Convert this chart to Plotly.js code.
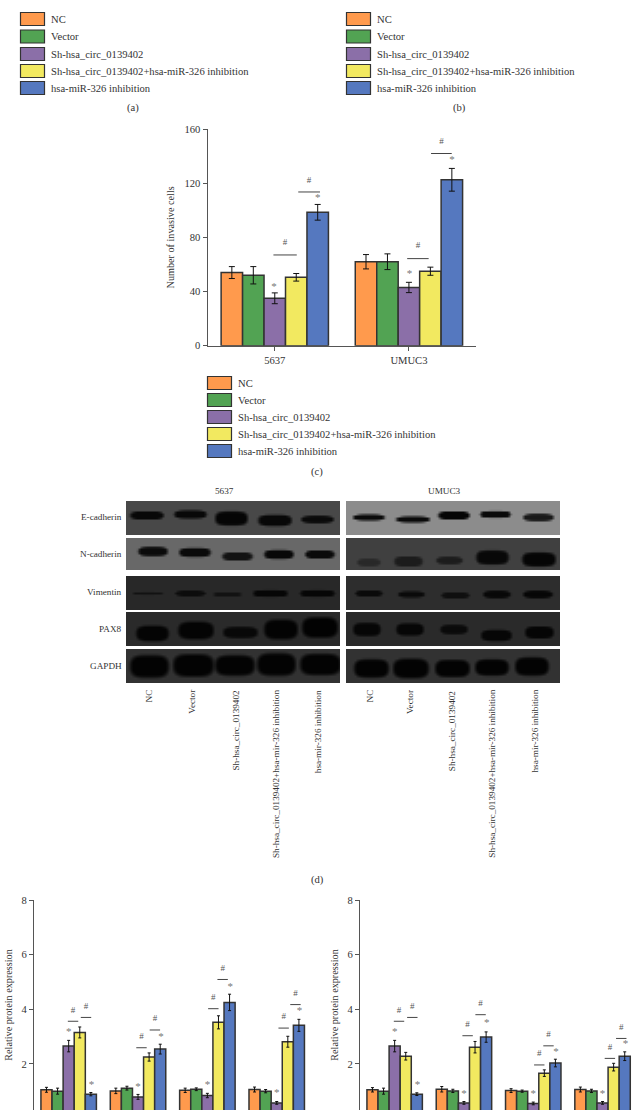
<!DOCTYPE html>
<html>
<head>
<meta charset="utf-8">
<script src="https://cdn.plot.ly/plotly-3.0.1.min.js"></script>
<style>
  html, body { margin: 0; padding: 0; background: #fff; overflow: hidden; }
</style>
</head>
<body>
<div id="chart" style="width:632px;height:1110px"></div>
<script>
const seriesNames = ['NC', 'Vector', 'Sh-hsa_circ_0139402', 'Sh-hsa_circ_0139402+hsa-miR-326 inhibition', 'hsa-miR-326 inhibition'];
const seriesColors = ['#ff9a4d', '#52a353', '#8b6fa8', '#f2e960', '#5578bf'];

// panel (c)
const invasiveCells = ['5637', 'UMUC3'];
const invasiveValues = [[54, 62], [52, 62], [35, 43], [50.5, 55], [98.5, 122.5]];
const invasiveErrors = [[4.4, 5.3], [6.4, 5.8], [4, 3.8], [2.8, 3], [5.8, 8.4]];
const invasiveLines = [[0.077, 0.087, 67], [0.256, 0.081, 113.5], [1.067, 0.08, 64.3], [1.242, 0.077, 141.9]];
const invasiveHash = [[0.077, 75.8], [0.256, 121.9], [1.067, 73.6], [1.242, 150.7]];
const invasiveStars = [[-0.005, 42.9], [0.32, 108.9], [1.005, 52.7], [1.322, 136.9]];

// panel (e), four groups, x axis is below the crop
const proteinLeftValues = [
  [1.05, 1.01, 1.03, 1.06], [1.0, 1.11, 1.07, 1.0], [2.65, 0.79, 0.84, 0.57],
  [3.15, 2.25, 3.52, 2.81], [0.89, 2.54, 4.25, 3.41]
];
const proteinLeftErrors = [
  [0.09, 0.1, 0.08, 0.09], [0.11, 0.07, 0.05, 0.06], [0.21, 0.09, 0.08, 0.05],
  [0.2, 0.15, 0.24, 0.2], [0.06, 0.18, 0.3, 0.22]
];
const proteinLeftLines = [[0.063, 3.56], [0.25, 3.7], [1.05, 2.59], [1.243, 3.24], [2.086, 4.02], [2.22, 5.09], [3.1, 3.31], [3.27, 4.17]];
const proteinLeftStars = [[0, 3.15], [0.33, 1.22], [1, 1.16], [1.33, 2.96], [2, 1.23], [2.33, 4.82], [3, 0.91], [3.33, 3.92]];

// panel (f)
const proteinRightValues = [
  [1.05, 1.07, 1.02, 1.06], [1.0, 1.01, 1.0, 1.01], [2.65, 0.57, 0.55, 0.57],
  [2.28, 2.61, 1.66, 1.88], [0.89, 2.98, 2.03, 2.28]
];
const proteinRightErrors = [
  [0.08, 0.1, 0.07, 0.09], [0.11, 0.06, 0.04, 0.06], [0.21, 0.05, 0.05, 0.05],
  [0.14, 0.21, 0.12, 0.14], [0.05, 0.19, 0.14, 0.16]
];
const proteinRightLines = [[0.063, 3.56], [0.255, 3.7], [1.053, 3.03], [1.24, 3.8], [2.087, 1.96], [2.22, 2.66], [3.106, 2.2], [3.27, 2.93]];
const proteinRightStars = [[0, 3.15], [0.33, 1.22], [1, 0.9], [1.33, 3.47], [2, 0.9], [2.33, 2.42], [3, 0.9], [3.33, 2.7]];

// panel (d) western blots
const blotProteins = ['E-cadherin', 'N-cadherin', 'Vimentin', 'PAX8', 'GAPDH'];
const blotLanes = ['NC', 'Vector', 'Sh-hsa_circ_0139402', 'Sh-hsa_circ_0139402+hsa-mir-326 inhibition', 'hsa-mir-326 inhibition'];
// per row: background grey, then bands as [left, right, centre y, height, band grey]
const blot5637Bg = [72, 104, 40, 42, 50];
const blot5637Bands = [
  [[130, 163, 515, 7, 8], [174, 206, 514, 7, 8], [215, 247, 518, 13, 5], [258, 291, 520, 10, 8], [301, 333, 519, 6, 10]],
  [[138, 167, 551, 8, 10], [179, 210, 552, 8, 10], [222, 252, 556, 7, 18], [264, 293, 554, 8, 8], [305, 334, 554, 7, 10]],
  [[133, 162, 593, 2.5, 18], [175, 205, 593, 4, 12], [213, 241, 594, 2.5, 18], [253, 287, 593, 6, 6], [300, 334, 593, 6, 6]],
  [[136, 168, 633, 14, 4], [178, 213, 630, 16, 4], [223, 257, 632, 10, 8], [264, 297, 629, 18, 3], [302, 337, 627, 19, 2]],
  [[130, 168, 666, 21, 3], [173, 213, 665, 21, 3], [215, 254, 665, 19, 3], [257, 295, 664, 21, 3], [300, 340, 664, 20, 3]]
];
const blotUmucBg = [140, 64, 45, 42, 50];
const blotUmucBands = [
  [[353, 384, 517, 5, 10], [396, 429, 519, 5, 10], [438, 469, 515, 7, 5], [480, 510, 514, 6, 10], [523, 553, 517, 6, 25]],
  [[357, 380, 562, 6, 40], [394, 422, 561, 9, 28], [436, 462, 560, 6, 28], [476, 508, 557, 13, 8], [522, 555, 559, 13, 5]],
  [[355, 382, 593, 4.5, 10], [398, 424, 594, 5, 10], [441, 469, 595, 4.5, 15], [483, 510, 594, 6, 8], [523, 552, 594, 6, 6]],
  [[353, 380, 629, 12, 6], [396, 423, 629, 11, 6], [440, 467, 629, 8, 10], [481, 511, 635, 10, 6], [525, 553, 632, 11, 5]],
  [[354, 388, 668, 17, 3], [393, 428, 668, 18, 3], [435, 469, 668, 16, 3], [475, 508, 667, 15, 3], [515, 548, 666, 17, 3]]
];
const blotRowTops = [502, 539, 577, 613, 650];
const blotRowBottoms = [534, 570, 609, 646, 683];

const serif = '"Liberation Serif", serif';
const textColor = '#333';
const traces = [];
const shapes = [];
const annotations = [];

function barPanel(xName, yName, cats, values, errors, capWidth) {
  values.forEach((v, i) => {
    traces.push({
      type: 'bar',
      name: seriesNames[i],
      x: cats.map((c, k) => k),
      y: v,
      xaxis: xName,
      yaxis: yName,
      marker: { color: seriesColors[i], line: { color: '#333', width: 1.5 } },
      error_y: { type: 'data', array: errors[i], visible: true, color: '#111', thickness: 1, width: capWidth },
      showlegend: false,
      hoverinfo: 'y'
    });
  });
}

function markText(xName, yName, points, label, color, size) {
  traces.push({
    type: 'scatter',
    mode: 'text',
    x: points.map(p => p[0]),
    y: points.map(p => p[1]),
    text: points.map(() => label),
    textposition: 'middle center',
    textfont: { family: serif, size: size, color: color },
    xaxis: xName,
    yaxis: yName,
    showlegend: false,
    hoverinfo: 'skip'
  });
}

function sigLine(xName, yName, x0, x1, y) {
  shapes.push({ type: 'line', xref: xName, yref: yName, x0, x1, y0: y, y1: y, line: { color: '#444', width: 1 } });
}

// page-pixel text
function label(x, y, text, opts) {
  annotations.push(Object.assign({
    xref: 'x4', yref: 'y4', x, y, text, showarrow: false,
    font: { family: serif, size: 10.6, color: textColor },
    xanchor: 'center', yanchor: 'middle'
  }, opts || {}));
}

function legendBlock(left, centers) {
  seriesNames.forEach((name, i) => {
    shapes.push({
      type: 'rect', xref: 'x4', yref: 'y4',
      x0: left, x1: left + 24, y0: centers[i] - 6.5, y1: centers[i] + 6.5,
      fillcolor: seriesColors[i], line: { color: '#333', width: 1.2 }
    });
    label(left + 28, centers[i], name, { xanchor: 'left' });
  });
}

// soft-edged blot picture on the page axes, cell size 2px
function blotRow(left, right, top, bottom, bg, bands) {
  const xs = [];
  const ys = [];
  for (let x = left; x <= right; x += 2) xs.push(x);
  for (let y = top; y <= bottom; y += 2) ys.push(y);
  const z = ys.map(y => xs.map(x => {
    let g = bg;
    bands.forEach(b => {
      const cx = (b[0] + b[1]) / 2;
      const hw = (b[1] - b[0]) / 2;
      const d = Math.pow(Math.abs(x - cx) / hw, 4) + Math.pow(Math.abs(y - b[2]) / (b[3] / 2 + 0.5), 2.6);
      const a = d < 0.6 ? 1 : d > 1.5 ? 0 : (1.5 - d) / 0.9;
      g = g + (b[4] - g) * a;
    });
    return g;
  }));
  traces.push({
    type: 'heatmap', x: xs, y: ys, z,
    xaxis: 'x4', yaxis: 'y4',
    zmin: 0, zmax: 255, zsmooth: 'best',
    colorscale: [[0, '#000'], [1, '#fff']],
    showscale: false, hoverinfo: 'skip'
  });
}

blotProteins.forEach((p, i) => {
  blotRow(127, 340, blotRowTops[i], blotRowBottoms[i], blot5637Bg[i], blot5637Bands[i]);
  blotRow(347, 559, blotRowTops[i], blotRowBottoms[i], blotUmucBg[i], blotUmucBands[i]);
  label(124, (blotRowTops[i] + blotRowBottoms[i]) / 2 - 1, p, { xanchor: 'right', font: { family: serif, size: 9.2, color: textColor } });
});

// bar panels
barPanel('x', 'y', invasiveCells, invasiveValues, invasiveErrors, 3);
markText('x', 'y', invasiveHash, '#', '#555', 9);
markText('x', 'y', invasiveStars, '*', '#777', 11);
invasiveLines.forEach(l => sigLine('x', 'y', l[0] - l[1], l[0] + l[1], l[2]));

const proteinCats = [0, 1, 2, 3];
[['x2', 'y2', proteinLeftValues, proteinLeftErrors, proteinLeftLines, proteinLeftStars],
 ['x3', 'y3', proteinRightValues, proteinRightErrors, proteinRightLines, proteinRightStars]].forEach(p => {
  barPanel(p[0], p[1], proteinCats, p[2], p[3], 1.5);
  markText(p[0], p[1], p[4].map(l => [l[0], l[1] + 0.4]), '#', '#555', 9);
  markText(p[0], p[1], p[5], '*', '#777', 11);
  p[4].forEach(l => sigLine(p[0], p[1], l[0] - 0.075, l[0] + 0.075, l[1]));
});

// legends and captions
legendBlock(20.5, [19, 36.5, 54, 71, 88]);
legendBlock(346.5, [19, 36.5, 54, 71, 88]);
legendBlock(207.5, [383, 400, 417, 434, 451]);
label(133, 108, '(a)');
label(459, 108, '(b)');
label(317, 472, '(c)');
label(317, 880, '(d)');

// cropped tick labels of panels (a) and (b) at the very top of the page
[[92, '5637'], [225, '5637'], [430, 'UMUC3'], [590, 'UMUC3']].forEach(t => {
  label(t[0], 4, t[1], { yanchor: 'bottom' });
});

// blot headers and rotated lane names
label(224, 491, '5637', { font: { family: serif, size: 9.2, color: textColor } });
label(444, 491, 'UMUC3', { font: { family: serif, size: 9.2, color: textColor } });
const laneX5637 = [148, 191.7, 235, 276, 317.7];
const laneXUmuc = [369, 410, 451.7, 491.7, 534];
[laneX5637, laneXUmuc].forEach(xs => {
  xs.forEach((x, i) => {
    label(x, 688, blotLanes[i], { textangle: -90, yanchor: 'top', font: { family: serif, size: 9.2, color: textColor } });
  });
});

const axisBase = {
  showgrid: false, zeroline: false, showline: true, linecolor: '#555', linewidth: 1.2,
  ticks: 'outside', ticklen: 4, tickcolor: '#555',
  tickfont: { family: serif, size: 10.6, color: textColor }, fixedrange: true
};
const titleFont = { family: serif, size: 10.2, color: textColor };
const H = 1110;
const W = 632;

const layout = {
  width: W,
  height: H,
  margin: { t: 0, b: 0, l: 0, r: 0 },
  paper_bgcolor: '#fff',
  plot_bgcolor: 'rgba(0,0,0,0)',
  barmode: 'group',
  bargap: 0.2,
  bargroupgap: 0,
  showlegend: false,
  shapes,
  annotations,
  xaxis: Object.assign({}, axisBase, {
    domain: [207.7 / W, 476 / W], range: [-0.5, 1.5], anchor: 'y',
    tickvals: [0, 1], ticktext: invasiveCells
  }),
  yaxis: Object.assign({}, axisBase, {
    domain: [1 - 345.7 / H, 1 - 129 / H], range: [0, 160], anchor: 'x',
    tickvals: [0, 40, 80, 120, 160],
    title: { text: 'Number of invasive cells', font: titleFont, standoff: 8 }
  }),
  xaxis2: Object.assign({}, axisBase, {
    domain: [34 / W, 311.4 / W], range: [-0.5, 3.5], anchor: 'y2',
    showline: false, ticks: '', showticklabels: false
  }),
  yaxis2: Object.assign({}, axisBase, {
    domain: [0, 1 - 900 / H], range: [0.31, 8], anchor: 'x2',
    tickvals: [2, 4, 6, 8],
    title: { text: 'Relative protein expression', font: titleFont, standoff: 6 }
  }),
  xaxis3: Object.assign({}, axisBase, {
    domain: [360 / W, 1], range: [-0.5, 3.425], anchor: 'y3',
    showline: false, ticks: '', showticklabels: false
  }),
  yaxis3: Object.assign({}, axisBase, {
    domain: [0, 1 - 900 / H], range: [0.31, 8], anchor: 'x3',
    tickvals: [2, 4, 6, 8],
    title: { text: 'Relative protein expression', font: titleFont, standoff: 6 }
  }),
  // page axes in pixels, carry the blots and loose text
  xaxis4: { domain: [0, 1], range: [0, W], visible: false, fixedrange: true, anchor: 'y4' },
  yaxis4: { domain: [0, 1], range: [H, 0], visible: false, fixedrange: true, anchor: 'x4' }
};

Plotly.newPlot('chart', traces, layout, { displayModeBar: false, staticPlot: true });
</script>
</body>
</html>
